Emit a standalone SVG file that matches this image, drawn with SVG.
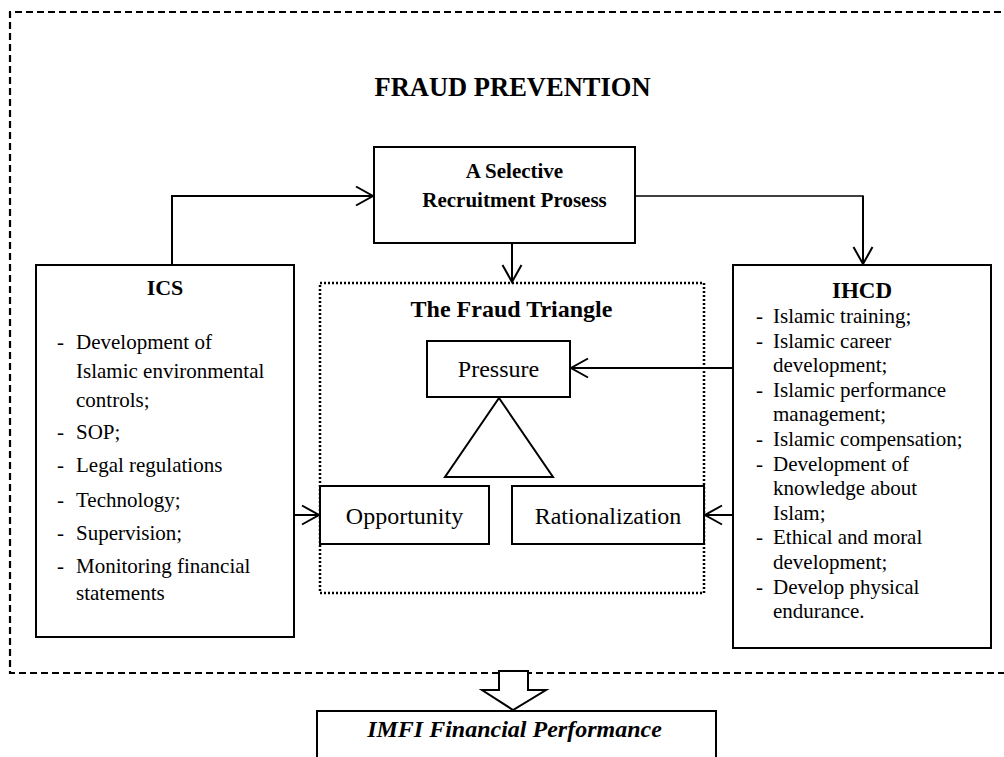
<svg xmlns="http://www.w3.org/2000/svg" width="1004" height="757" viewBox="0 0 1004 757">
<style>
.box{fill:#fff;stroke:#000;stroke-width:2}
.ln{fill:none;stroke:#000;stroke-width:2}
.t{font-family:"Liberation Serif","Times New Roman",serif;fill:#000}
.r21{font-size:21px}
.r24{font-size:24px}
.b{font-weight:bold}
.c{text-anchor:middle}
</style>
<defs>
<marker id="arr" markerUnits="userSpaceOnUse" viewBox="-1 -1 20 21" refX="17" refY="9.5" markerWidth="20" markerHeight="21" orient="auto" overflow="visible">
<path d="M0,0 L17,9.5 L0,19" fill="none" stroke="#000" stroke-width="2"/>
</marker>
</defs>
<rect width="1004" height="757" fill="#fff"/>
<g id="frame">
<path d="M1012,12 H10 V673 H1012" fill="none" stroke="#000" stroke-width="2.2" stroke-dasharray="7 4"/>
<text class="t b c" x="512.5" y="96" font-size="26.5">FRAUD PREVENTION</text>
</g>
<g id="connectors">
<path class="ln" d="M172,265 V196 H373" marker-end="url(#arr)"/>
<path d="M635,196 H863" fill="none" stroke="#000" stroke-width="1.3"/>
<path class="ln" d="M863,195.5 V264" marker-end="url(#arr)"/>
<path class="ln" d="M512,243 V282" marker-end="url(#arr)"/>
<path class="ln" d="M733,368 H571" marker-end="url(#arr)"/>
<path class="ln" d="M733,515 H705" marker-end="url(#arr)"/>
<path class="ln" d="M294,515 H319" marker-end="url(#arr)"/>
<polygon points="499,671 528,671 528,690 546,690 513,710 482,690 499,690" fill="#fff" stroke="#000" stroke-width="2"/>
</g>
<g id="selective">
<rect class="box" x="374" y="147" width="261" height="96"/>
<text class="t b c r21" x="514.5" y="178">A Selective</text>
<text class="t b c r21" x="514.5" y="207">Recruitment Prosess</text>
</g>
<g id="fraud-triangle">
<rect x="320" y="283" width="384" height="310" fill="none" stroke="#000" stroke-width="2.5" stroke-dasharray="2 2"/>
<text class="t b c r24" x="511.5" y="317">The Fraud Triangle</text>
<polygon points="499,398 553,477 445,477" fill="#fff" stroke="#000" stroke-width="2"/>
</g>
<g id="pressure">
<rect class="box" x="427" y="341" width="143" height="56"/>
<text class="t c r24" x="498.5" y="377">Pressure</text>
</g>
<g id="opportunity">
<rect class="box" x="320" y="486" width="169" height="58"/>
<text class="t c r24" x="404.5" y="524">Opportunity</text>
</g>
<g id="rationalization">
<rect class="box" x="512" y="486" width="192" height="58"/>
<text class="t c r24" x="608" y="524">Rationalization</text>
</g>
<g id="ics">
<rect class="box" x="36" y="265" width="258" height="372"/>
<text class="t b c" x="165" y="295" font-size="22">ICS</text>
<g class="t r21">
<text x="57" y="349">-</text><text x="76" y="349">Development of</text>
<text x="76" y="378">Islamic environmental</text>
<text x="76" y="407">controls;</text>
<text x="57" y="439">-</text><text x="76" y="439">SOP;</text>
<text x="57" y="472">-</text><text x="76" y="472">Legal regulations</text>
<text x="57" y="507">-</text><text x="76" y="507">Technology;</text>
<text x="57" y="540">-</text><text x="76" y="540">Supervision;</text>
<text x="57" y="573">-</text><text x="76" y="573">Monitoring financial</text>
<text x="76" y="600">statements</text>
</g>
</g>
<g id="ihcd">
<rect class="box" x="733" y="265" width="258" height="383"/>
<text class="t b c" x="862" y="298" font-size="23">IHCD</text>
<g class="t r21">
<text x="756" y="323">-</text><text x="773" y="323">Islamic training;</text>
<text x="756" y="347.6">-</text><text x="773" y="347.6">Islamic career</text>
<text x="773" y="372.2">development;</text>
<text x="756" y="396.8">-</text><text x="773" y="396.8">Islamic performance</text>
<text x="773" y="421.4">management;</text>
<text x="756" y="446">-</text><text x="773" y="446">Islamic compensation;</text>
<text x="756" y="470.6">-</text><text x="773" y="470.6">Development of</text>
<text x="773" y="495.2">knowledge about</text>
<text x="773" y="519.8">Islam;</text>
<text x="756" y="544.4">-</text><text x="773" y="544.4">Ethical and moral</text>
<text x="773" y="569">development;</text>
<text x="756" y="593.6">-</text><text x="773" y="593.6">Develop physical</text>
<text x="773" y="618.2">endurance.</text>
</g>
</g>
<g id="imfi">
<rect class="box" x="317" y="711" width="399" height="60"/>
<text class="t b c r24" x="514.5" y="737" font-style="italic">IMFI Financial Performance</text>
</g>
</svg>
